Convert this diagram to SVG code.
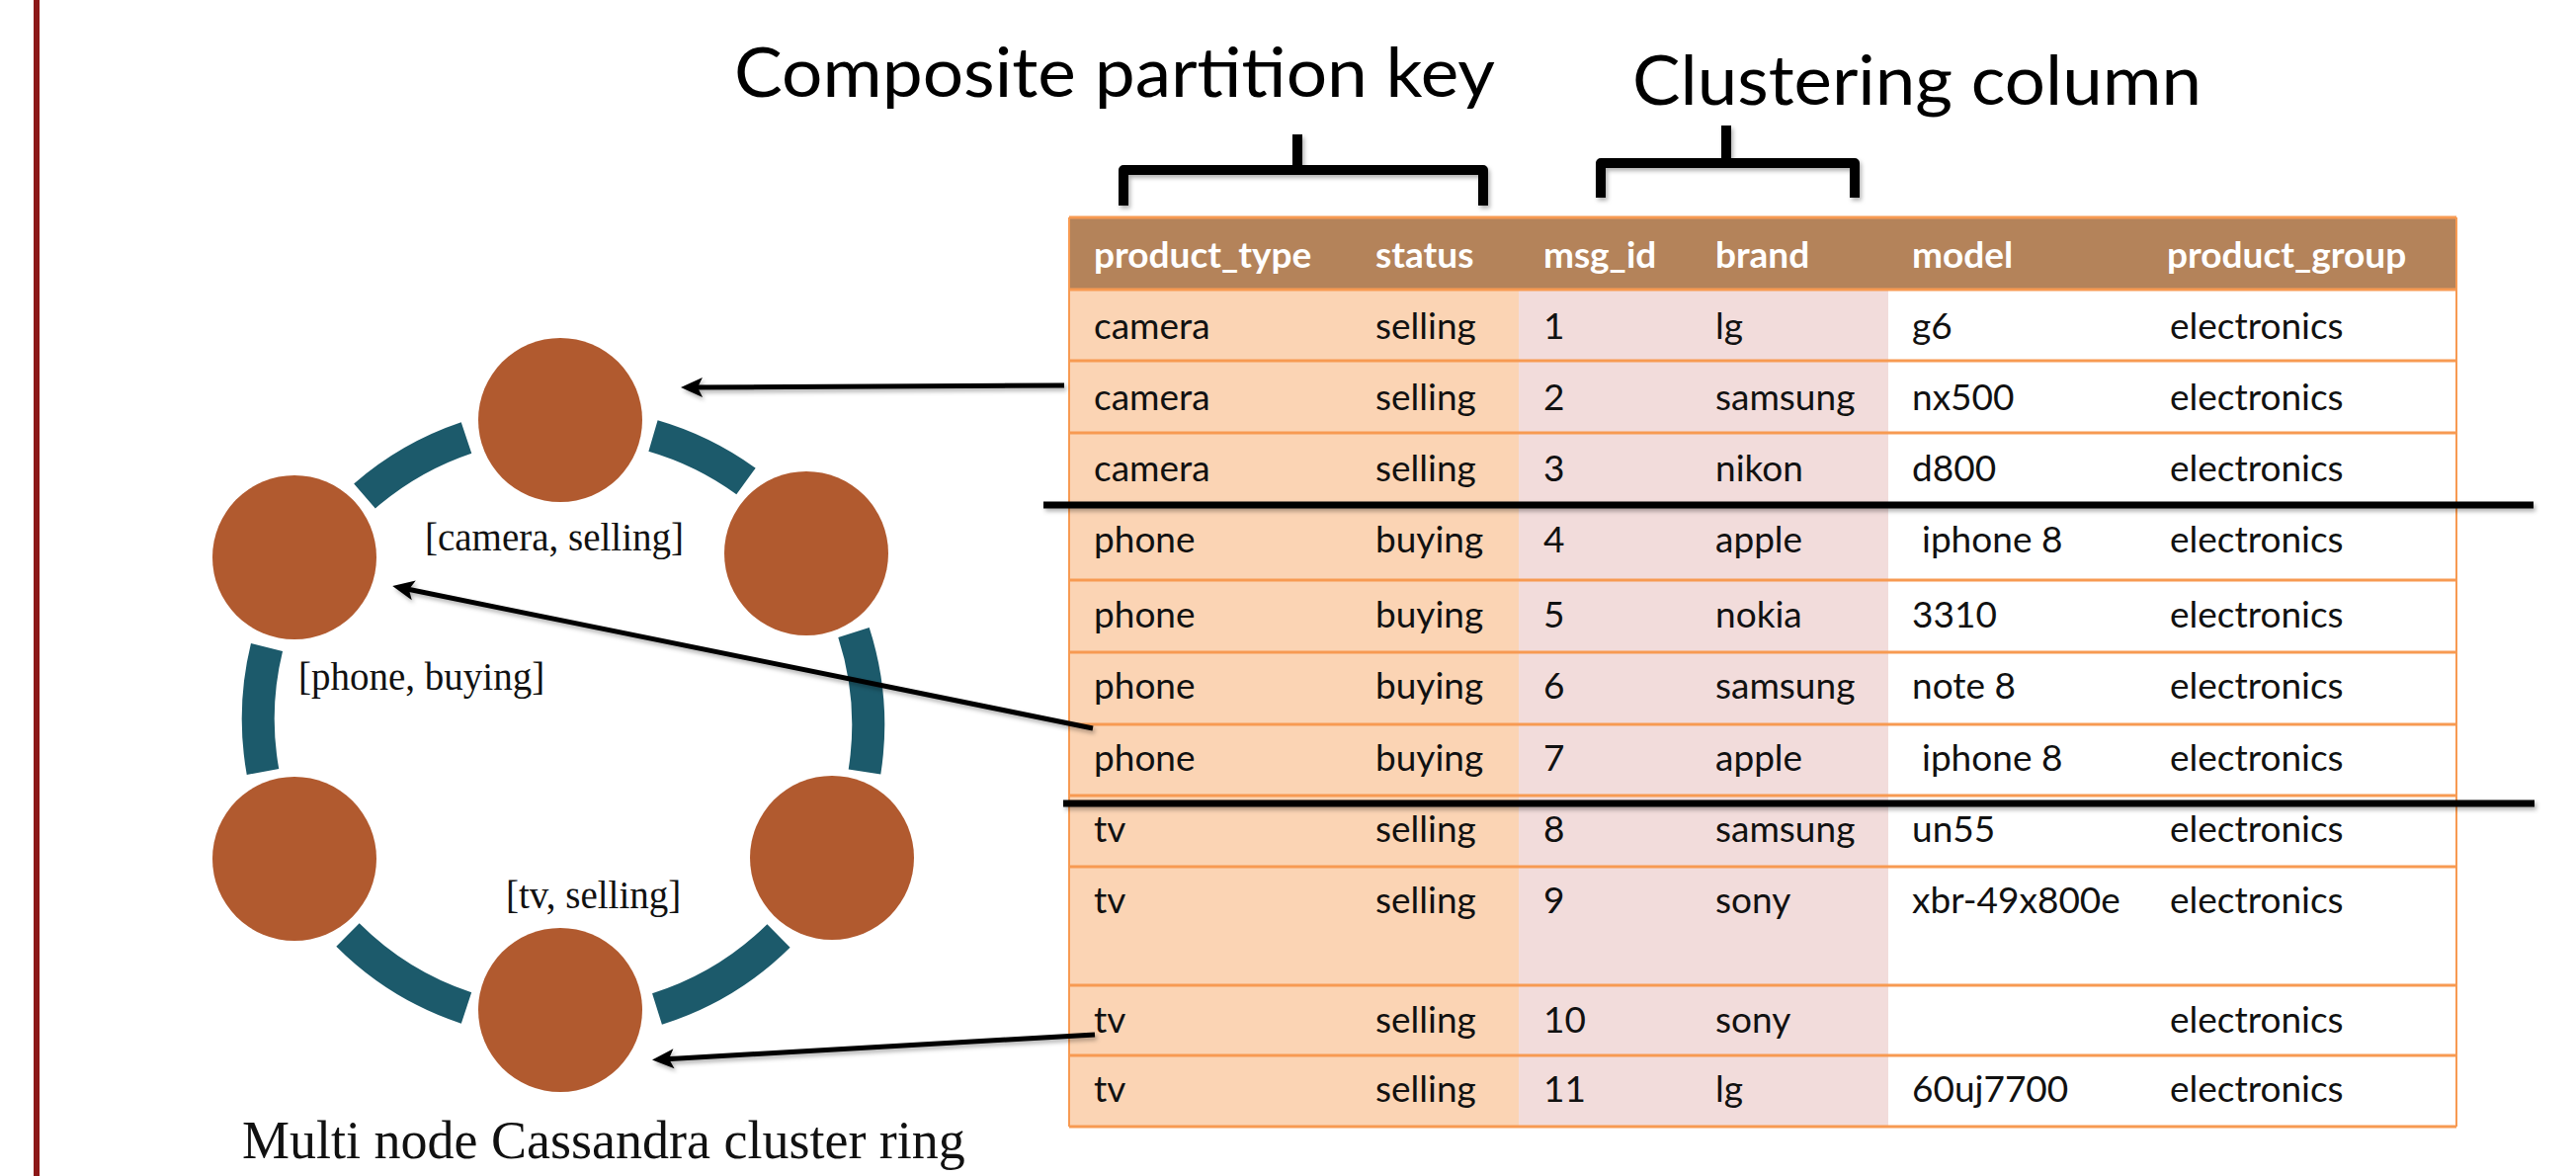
<svg xmlns="http://www.w3.org/2000/svg" width="2607" height="1190" viewBox="0 0 2607 1190">
<defs>
  <style>
    .title { font-family: Lato, "Liberation Sans", sans-serif; font-size: 70px; fill: #000; }
    .cell { font-family: Lato, "Liberation Sans", sans-serif; font-size: 37px; fill: #111; }
    .head { font-family: Lato, "Liberation Sans", sans-serif; font-size: 37px; font-weight: bold; fill: #fff; }
    .lbl { font-family: "Liberation Serif", "Times New Roman", serif; font-size: 39px; fill: #111; }
    .cap { font-family: "Liberation Serif", "Times New Roman", serif; font-size: 54px; fill: #111; }
    .node { fill: #B15A2F; }
    .arc { fill: none; stroke: #1C5A6B; stroke-width: 33; stroke-linecap: butt; }
    .rowline { stroke: #F79A52; stroke-width: 3; }
    .bracket { fill: none; stroke: #000; stroke-width: 10; stroke-linejoin: round; }
    .sep { stroke: #000; stroke-width: 7; }
    .arrow { fill: none; stroke: #000; stroke-width: 5; marker-end: url(#ah); }
  </style>
  <filter id="sh" filterUnits="userSpaceOnUse" x="0" y="0" width="2607" height="1190">
    <feDropShadow dx="2" dy="3" stdDeviation="2" flood-color="#000" flood-opacity="0.3"/>
  </filter>
  <marker id="ah" markerUnits="userSpaceOnUse" viewBox="-14 -12 26 24" refX="0" refY="0" markerWidth="26" markerHeight="24" orient="auto">
    <path d="M10,0 L-12,-10 L-7,0 L-12,10 Z" fill="#000"/>
  </marker>
</defs>

<rect x="0" y="0" width="2607" height="1190" fill="#fff"/>
<line x1="37" y1="0" x2="37" y2="1190" stroke="#8C1818" stroke-width="6"/>

<!-- Titles and brackets -->
<g id="title-partition">
  <text class="title" x="743" y="98" textLength="770" lengthAdjust="spacingAndGlyphs">Composite partition key</text>
  <path class="bracket" filter="url(#sh)" d="M1137,208 L1137,172 L1501,172 L1501,208 M1313,172 L1313,136"/>
</g>
<g id="title-clustering">
  <text class="title" x="1652" y="106" textLength="576" lengthAdjust="spacingAndGlyphs">Clustering column</text>
  <path class="bracket" filter="url(#sh)" d="M1620,200 L1620,165 L1877,165 L1877,200 M1747,165 L1747,127"/>
</g>

<!-- Ring -->
<g id="ring">
  <path class="arc" d="M369,502 A305,305 0 0 1 472,443"/>
  <path class="arc" d="M661,441 A305,305 0 0 1 755,487"/>
  <path class="arc" d="M864,640 A305,305 0 0 1 875,781"/>
  <path class="arc" d="M788,947 A305,305 0 0 1 665,1021"/>
  <path class="arc" d="M472,1020 A305,305 0 0 1 352,946"/>
  <path class="arc" d="M266,781 A305,305 0 0 1 270,655"/>
</g>
<g id="node-top"><circle class="node" cx="567" cy="425" r="83"/></g>
<g id="node-upper-left"><circle class="node" cx="298" cy="564" r="83"/></g>
<g id="node-upper-right"><circle class="node" cx="816" cy="560" r="83"/></g>
<g id="node-lower-left"><circle class="node" cx="298" cy="869" r="83"/></g>
<g id="node-lower-right"><circle class="node" cx="842" cy="868" r="83"/></g>
<g id="node-bottom"><circle class="node" cx="567" cy="1022" r="83"/></g>

<g id="ring-labels">
  <text class="lbl" x="430" y="557">[camera, selling]</text>
  <text class="lbl" x="302" y="698">[phone, buying]</text>
  <text class="lbl" x="512" y="919">[tv, selling]</text>
  <text class="cap" x="245" y="1172">Multi node Cassandra cluster ring</text>
</g>

<!-- Table -->
<g id="table">
  <rect x="1082" y="293" width="455" height="847" fill="#FBD4B4"/>
  <rect x="1537" y="293" width="374" height="847" fill="#F2DCDB"/>
  <rect x="1911" y="293" width="575" height="847" fill="#fff"/>
  <rect x="1082" y="220" width="1404" height="73" fill="#B4835A"/>
  <g>
    <line class="rowline" x1="1082" y1="220" x2="2486" y2="220"/>
    <line class="rowline" x1="1082" y1="293" x2="2486" y2="293"/>
    <line class="rowline" x1="1082" y1="365" x2="2486" y2="365"/>
    <line class="rowline" x1="1082" y1="438" x2="2486" y2="438"/>
    <line class="rowline" x1="1082" y1="511" x2="2486" y2="511"/>
    <line class="rowline" x1="1082" y1="587" x2="2486" y2="587"/>
    <line class="rowline" x1="1082" y1="660" x2="2486" y2="660"/>
    <line class="rowline" x1="1082" y1="733" x2="2486" y2="733"/>
    <line class="rowline" x1="1082" y1="805" x2="2486" y2="805"/>
    <line class="rowline" x1="1082" y1="877" x2="2486" y2="877"/>
    <line class="rowline" x1="1082" y1="997" x2="2486" y2="997"/>
    <line class="rowline" x1="1082" y1="1068" x2="2486" y2="1068"/>
    <line class="rowline" x1="1082" y1="1140" x2="2486" y2="1140"/>
    <line x1="1082" y1="220" x2="1082" y2="1140" stroke="#F79A52" stroke-width="2"/>
    <line x1="2486" y1="220" x2="2486" y2="1140" stroke="#F79A52" stroke-width="2"/>
  </g>
  <g>
    <text class="head" x="1107" y="271">product_type</text>
    <text class="head" x="1392" y="271">status</text>
    <text class="head" x="1562" y="271">msg_id</text>
    <text class="head" x="1736" y="271">brand</text>
    <text class="head" x="1935" y="271">model</text>
    <text class="head" x="2193" y="271">product_group</text>
  </g>
  <g>
    <text class="cell" x="1107" y="343">camera</text><text class="cell" x="1392" y="343">selling</text><text class="cell" x="1562" y="343">1</text><text class="cell" x="1736" y="343">lg</text><text class="cell" x="1935" y="343">g6</text><text class="cell" x="2196" y="343">electronics</text>
    <text class="cell" x="1107" y="415">camera</text><text class="cell" x="1392" y="415">selling</text><text class="cell" x="1562" y="415">2</text><text class="cell" x="1736" y="415">samsung</text><text class="cell" x="1935" y="415">nx500</text><text class="cell" x="2196" y="415">electronics</text>
    <text class="cell" x="1107" y="487">camera</text><text class="cell" x="1392" y="487">selling</text><text class="cell" x="1562" y="487">3</text><text class="cell" x="1736" y="487">nikon</text><text class="cell" x="1935" y="487">d800</text><text class="cell" x="2196" y="487">electronics</text>
    <text class="cell" x="1107" y="559">phone</text><text class="cell" x="1392" y="559">buying</text><text class="cell" x="1562" y="559">4</text><text class="cell" x="1736" y="559">apple</text><text class="cell" x="1945" y="559">iphone 8</text><text class="cell" x="2196" y="559">electronics</text>
    <text class="cell" x="1107" y="635">phone</text><text class="cell" x="1392" y="635">buying</text><text class="cell" x="1562" y="635">5</text><text class="cell" x="1736" y="635">nokia</text><text class="cell" x="1935" y="635">3310</text><text class="cell" x="2196" y="635">electronics</text>
    <text class="cell" x="1107" y="707">phone</text><text class="cell" x="1392" y="707">buying</text><text class="cell" x="1562" y="707">6</text><text class="cell" x="1736" y="707">samsung</text><text class="cell" x="1935" y="707">note 8</text><text class="cell" x="2196" y="707">electronics</text>
    <text class="cell" x="1107" y="780">phone</text><text class="cell" x="1392" y="780">buying</text><text class="cell" x="1562" y="780">7</text><text class="cell" x="1736" y="780">apple</text><text class="cell" x="1945" y="780">iphone 8</text><text class="cell" x="2196" y="780">electronics</text>
    <text class="cell" x="1107" y="852">tv</text><text class="cell" x="1392" y="852">selling</text><text class="cell" x="1562" y="852">8</text><text class="cell" x="1736" y="852">samsung</text><text class="cell" x="1935" y="852">un55</text><text class="cell" x="2196" y="852">electronics</text>
    <text class="cell" x="1107" y="924">tv</text><text class="cell" x="1392" y="924">selling</text><text class="cell" x="1562" y="924">9</text><text class="cell" x="1736" y="924">sony</text><text class="cell" x="1935" y="924">xbr-49x800e</text><text class="cell" x="2196" y="924">electronics</text>
    <text class="cell" x="1107" y="1045">tv</text><text class="cell" x="1392" y="1045">selling</text><text class="cell" x="1562" y="1045">10</text><text class="cell" x="1736" y="1045">sony</text><text class="cell" x="2196" y="1045">electronics</text>
    <text class="cell" x="1107" y="1115">tv</text><text class="cell" x="1392" y="1115">selling</text><text class="cell" x="1562" y="1115">11</text><text class="cell" x="1736" y="1115">lg</text><text class="cell" x="1935" y="1115">60uj7700</text><text class="cell" x="2196" y="1115">electronics</text>
  </g>
</g>

<!-- Connectors -->
<g id="connectors">
  <line class="sep" filter="url(#sh)" x1="1056" y1="511" x2="2564" y2="511"/>
  <line class="sep" filter="url(#sh)" x1="1076" y1="813" x2="2565" y2="813"/>
  <path class="arrow" filter="url(#sh)" d="M1077,390 L699,392"/>
  <path class="arrow" filter="url(#sh)" d="M1106,737 L407,595"/>
  <path class="arrow" filter="url(#sh)" d="M1108,1047 L670,1072"/>
</g>
</svg>
